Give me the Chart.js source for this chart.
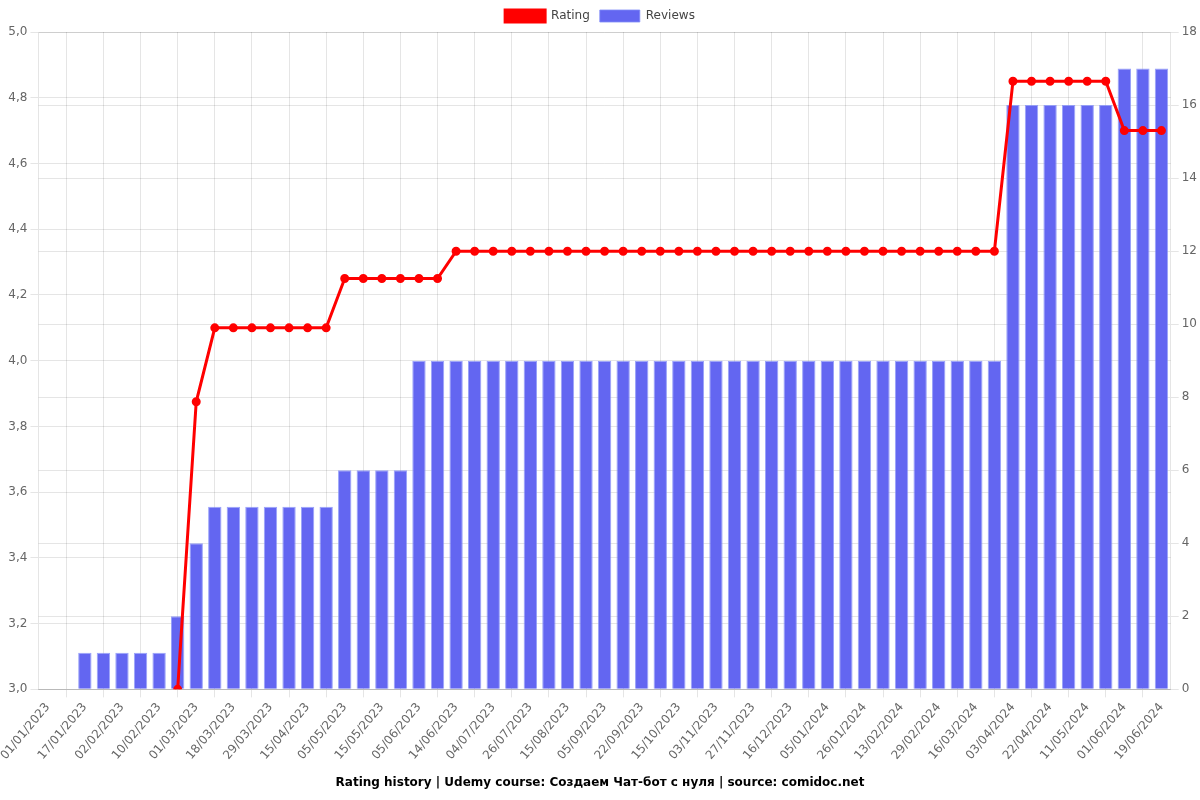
<!DOCTYPE html>
<html>
<head>
<meta charset="utf-8">
<script src="https://cdn.jsdelivr.net/npm/chart.js@4"></script>
<style>
  html, body { margin: 0; padding: 0; background: #fff; }
  #wrap { width: 1200px; height: 800px; }
</style>
</head>
<body>
<div id="wrap"><canvas id="ratingChart"></canvas></div>
<script>
const dates = [
  '01/01/2023', '09/01/2023', '17/01/2023', '25/01/2023', '02/02/2023', '06/02/2023',
  '10/02/2023', '20/02/2023', '01/03/2023', '09/03/2023', '18/03/2023', '23/03/2023',
  '29/03/2023', '06/04/2023', '15/04/2023', '25/04/2023', '05/05/2023', '10/05/2023',
  '15/05/2023', '25/05/2023', '05/06/2023', '10/06/2023', '14/06/2023', '24/06/2023',
  '04/07/2023', '15/07/2023', '26/07/2023', '05/08/2023', '15/08/2023', '25/08/2023',
  '05/09/2023', '14/09/2023', '22/09/2023', '03/10/2023', '15/10/2023', '25/10/2023',
  '03/11/2023', '15/11/2023', '27/11/2023', '06/12/2023', '16/12/2023', '26/12/2023',
  '05/01/2024', '15/01/2024', '26/01/2024', '04/02/2024', '13/02/2024', '21/02/2024',
  '29/02/2024', '08/03/2024', '16/03/2024', '25/03/2024', '03/04/2024', '13/04/2024',
  '22/04/2024', '01/05/2024', '11/05/2024', '21/05/2024', '01/06/2024', '10/06/2024',
  '19/06/2024'
];

const rating = [
  null, null, null, null, null, null, null, 3.0, 3.875, 4.1,
  4.1, 4.1, 4.1, 4.1, 4.1, 4.1, 4.25, 4.25, 4.25, 4.25,
  4.25, 4.25, 4.333, 4.333, 4.333, 4.333, 4.333, 4.333, 4.333, 4.333,
  4.333, 4.333, 4.333, 4.333, 4.333, 4.333, 4.333, 4.333, 4.333, 4.333,
  4.333, 4.333, 4.333, 4.333, 4.333, 4.333, 4.333, 4.333, 4.333, 4.333,
  4.333, 4.333, 4.85, 4.85, 4.85, 4.85, 4.85, 4.85, 4.7, 4.7,
  4.7
];

const reviews = [
  0, 0, 1, 1, 1, 1, 1, 2, 4, 5,
  5, 5, 5, 5, 5, 5, 6, 6, 6, 6,
  9, 9, 9, 9, 9, 9, 9, 9, 9, 9,
  9, 9, 9, 9, 9, 9, 9, 9, 9, 9,
  9, 9, 9, 9, 9, 9, 9, 9, 9, 9,
  9, 9, 16, 16, 16, 16, 16, 16, 17, 17,
  17
];

const titleText = 'Rating history | Udemy course: Создаем Чат-бот с нуля | source: comidoc.net';

Chart.defaults.font.family = 'DejaVu Sans';
Chart.defaults.font.size = 12;
Chart.defaults.color = '#666';

const ctx = document.getElementById('ratingChart').getContext('2d');
new Chart(ctx, {
  type: 'bar',
  data: {
    labels: dates,
    datasets: [
      {
        type: 'line',
        label: 'Rating',
        data: rating,
        yAxisID: 'y',
        borderColor: 'red',
        backgroundColor: 'red',
        borderWidth: 3,
        pointRadius: 3,
        pointBackgroundColor: 'red',
        tension: 0
      },
      {
        type: 'bar',
        label: 'Reviews',
        data: reviews,
        yAxisID: 'y1',
        backgroundColor: '#6366f1',
        borderColor: 'rgba(129,140,248,0.8)',
        borderWidth: 1
      }
    ]
  },
  options: {
    responsive: true,
    maintainAspectRatio: false,
    animation: false,
    plugins: {
      legend: {
        position: 'top',
        labels: { color: '#444' }
      },
      title: {
        display: true,
        text: titleText,
        position: 'bottom',
        color: '#000',
        font: { size: 12, weight: 'bold' }
      }
    },
    scales: {
      y: {
        position: 'left',
        min: 3,
        max: 5,
        ticks: {
          stepSize: 0.2,
          callback: (v) => v.toFixed(1).replace('.', ',')
        }
      },
      y1: {
        position: 'right',
        min: 0,
        max: 18,
        ticks: { stepSize: 2 }
      }
    }
  }
});
</script>
</body>
</html>
